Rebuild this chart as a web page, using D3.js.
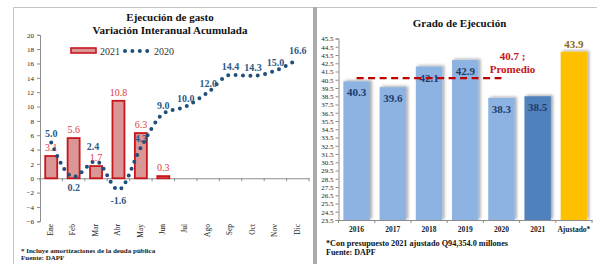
<!DOCTYPE html>
<html><head><meta charset="utf-8">
<script src="https://cdn.jsdelivr.net/npm/d3@7"></script>
<style>
html,body{margin:0;padding:0;background:#fff;}
svg text{font-family:"Liberation Serif","Times New Roman",serif !important;}
</style></head>
<body><svg id="c" width="597" height="264" font-family="Liberation Serif, serif"></svg>
<script>
// ---------- DATA ----------
const months = ["Ene","Feb","Mar","Abr","May","Jun","Jul","Ago","Sep","Oct","Nov","Dic"];
const values2021 = [3.1, 5.6, 1.7, 10.8, 6.3, 0.3];
const values2020 = [5.0, 0.2, 2.4, -1.6, 4.3, 9.0, 10.0, 12.0, 14.4, 14.3, 15.0, 16.6];
const leftTicks = [-6,-4,-2,0,2,4,6,8,10,12,14,16,18,20];
const seriesNames = ["2021", "2020"];

const years = ["2016","2017","2018","2019","2020","2021","Ajustado*"];
const grado = [40.3, 39.6, 42.1, 42.9, 38.3, 38.5, 43.9];
const promedio = 40.7;
const rightTicks = [23.5,24.5,25.5,26.5,27.5,28.5,29.5,30.5,31.5,32.5,33.5,34.5,35.5,36.5,37.5,38.5,39.5,40.5,41.5,42.5,43.5,44.5,45.5];

// ---------- SETUP ----------
const svg = d3.select("#c");
const defs = svg.append("defs");
const f = defs.append("filter").attr("id","sh").attr("x","-30%").attr("y","-30%").attr("width","160%").attr("height","160%");
f.append("feDropShadow").attr("dx",2).attr("dy",-1).attr("stdDeviation",1.4)
  .attr("flood-color","#000").attr("flood-opacity",0.35);

// panel frames
svg.append("path").attr("d","M13.5,270 V7.5 H313").attr("fill","none").attr("stroke","#c4c4c4");
svg.append("rect").attr("x",313).attr("y",7).attr("width",4).attr("height",260).attr("fill","#ababab");
svg.append("path").attr("d","M317,7.5 H597").attr("fill","none").attr("stroke","#c4c4c4");

// ---------- LEFT CHART ----------
const L = svg.append("g");
const x1 = d3.scaleBand().domain(months).range([40, 309]).paddingInner(0.375).paddingOuter(0.1875);
const y1 = d3.scaleLinear().domain([-6, 20]).range([221.3, 34.8]);
const cx1 = m => x1(m) + x1.bandwidth()/2;

L.append("text").attr("x",170).attr("y",21).attr("text-anchor","middle")
  .attr("font-size",11).attr("font-weight","bold").attr("fill","#111").text("Ejecución de gasto");
L.append("text").attr("x",170).attr("y",33.5).attr("text-anchor","middle")
  .attr("font-size",11).attr("font-weight","bold").attr("fill","#111").text("Variación Interanual Acumulada");

// y axis
const ay1 = L.append("g").attr("transform","translate(40,0)")
  .call(d3.axisLeft(y1).tickValues(leftTicks).tickSize(3).tickPadding(3).tickFormat(d3.format("d")));
ay1.attr("font-family", null);
ay1.select(".domain").attr("stroke","#8c8c8c");
ay1.selectAll(".tick line").attr("stroke","#8c8c8c");
ay1.selectAll("text").attr("font-size",7).attr("fill","#222");

// x axis at zero
const ax1 = L.append("g").attr("transform",`translate(0,${y1(0)})`)
  .call(d3.axisBottom(x1).tickSize(0).tickFormat(""));
ax1.select(".domain").attr("stroke","#8c8c8c");
ax1.selectAll(".tick").remove();
const step1 = x1.step();
L.append("g").selectAll("line").data(d3.range(months.length+1)).join("line")
  .attr("x1", i => 40 + i*step1).attr("x2", i => 40 + i*step1)
  .attr("y1", y1(0)).attr("y2", y1(0)+3).attr("stroke","#8c8c8c");
L.append("g").selectAll("text").data(months).join("text")
  .attr("transform", m => `translate(${cx1(m)},224) rotate(-90)`)
  .attr("text-anchor","end").attr("dominant-baseline","middle")
  .attr("font-size",7.5).attr("fill","#222").text(m => m);

// bars 2021
const bw1 = x1.bandwidth();
L.append("g").selectAll("rect").data(values2021).join("rect")
  .attr("x",(d,i)=>x1(months[i])+1).attr("width",bw1-2)
  .attr("y",d=>y1(Math.max(0,d))).attr("height",d=>Math.abs(y1(d)-y1(0)))
  .attr("fill","#d99694").attr("stroke","#c8161d").attr("stroke-width",1.8);

// line 2020 (dotted)
const line1 = d3.line().x((d,i)=>cx1(months[i])).y(d=>y1(d)).curve(d3.curveMonotoneX);
L.append("path").datum(values2020).attr("d",line1)
  .attr("fill","none").attr("stroke","#1f4e79").attr("stroke-width",4)
  .attr("stroke-linecap","round").attr("stroke-dasharray","0 7.4");

// labels 2021
L.append("g").selectAll("text").data(values2021).join("text")
  .attr("x",(d,i)=>cx1(months[i])).attr("y",d=>y1(d)-5)
  .attr("text-anchor","middle").attr("font-size",10).attr("fill","#e0393e")
  .text(d=>d.toFixed(1));
// labels 2020 (below for the two dips, lifted for March to clear the bar label)
const lblDy = i => (i===1||i===3) ? 14 : (i===2 ? -11 : -5);
const lblDx = i => (i===2 ? -3 : 0);
L.append("g").selectAll("text").data(values2020).join("text")
  .attr("x",(d,i)=>cx1(months[i]) + lblDx(i)).attr("y",(d,i)=> y1(d) + lblDy(i))
  .attr("text-anchor","middle").attr("font-size",10).attr("font-weight","bold").attr("fill","#2c5a89")
  .text(d=>d.toFixed(1));

// legend
const lg = L.append("g");
lg.append("rect").attr("x",71).attr("y",48).attr("width",25).attr("height",5)
  .attr("fill","#d99694").attr("stroke","#c8161d").attr("stroke-width",1.6);
lg.append("text").attr("x",100).attr("y",54.5).attr("font-size",10).attr("fill","#333").text(seriesNames[0]);
lg.append("path").attr("d","M125,51 H150").attr("stroke","#1f4e79").attr("stroke-width",4)
  .attr("stroke-linecap","round").attr("stroke-dasharray","0 7.4").attr("fill","none");
lg.append("text").attr("x",154).attr("y",54.5).attr("font-size",10).attr("fill","#333").text(seriesNames[1]);

// footnotes
L.append("text").attr("x",21).attr("y",253).attr("font-size",7).attr("font-weight","bold").attr("fill","#222")
  .text("* Incluye amortizaciones de la deuda pública");
L.append("text").attr("x",21).attr("y",259.5).attr("font-size",7).attr("font-weight","bold").attr("fill","#222")
  .text("Fuente:  DAPF");

// ---------- RIGHT CHART ----------
const R = svg.append("g");
const x2 = d3.scaleBand().domain(years).range([338.5, 592]).paddingInner(0.27).paddingOuter(0.135);
const y2 = d3.scaleLinear().domain([23.5, 45.5]).range([220, 38.5]);
const cx2 = c => x2(c) + x2.bandwidth()/2;
const barColor = i => i === 6 ? "#ffc000" : (i === 5 ? "#4f81bd" : "#8db3e2");

R.append("text").attr("x",459.5).attr("y",27).attr("text-anchor","middle")
  .attr("font-size",11).attr("font-weight","bold").attr("fill","#111").text("Grado de Ejecución");

const ay2 = R.append("g").attr("transform","translate(338.5,0)")
  .call(d3.axisLeft(y2).tickValues(rightTicks).tickSize(3).tickPadding(2).tickFormat(d3.format(".1f")));
ay2.attr("font-family", null);
ay2.select(".domain").attr("stroke","#8c8c8c");
ay2.selectAll(".tick line").attr("stroke","#8c8c8c");
ay2.selectAll("text").attr("font-size",7).attr("fill","#222");

// bars
R.append("g").selectAll("rect").data(grado).join("rect")
  .attr("x",(d,i)=>x2(years[i])).attr("width",x2.bandwidth())
  .attr("y",d=>y2(d)).attr("height",d=>y2(23.5)-y2(d))
  .attr("fill",(d,i)=>barColor(i)).attr("filter","url(#sh)");

// x axis
const ax2 = R.append("g").attr("transform",`translate(0,${y2(23.5)})`)
  .call(d3.axisBottom(x2).tickSize(0).tickFormat(""));
ax2.select(".domain").attr("stroke","#8c8c8c");
ax2.selectAll(".tick").remove();
const step2 = x2.step();
R.append("g").selectAll("line").data(d3.range(years.length+1)).join("line")
  .attr("x1", i => 338.5 + i*step2).attr("x2", i => 338.5 + i*step2)
  .attr("y1", y2(23.5)).attr("y2", y2(23.5)+3).attr("stroke","#8c8c8c");
R.append("g").selectAll("text").data(years).join("text")
  .attr("x", c => cx2(c)).attr("y", 231.5).attr("text-anchor","middle")
  .attr("font-size",7.5).attr("font-weight","bold").attr("fill","#222").text(c => c);

// value labels
R.append("g").selectAll("text").data(grado).join("text")
  .attr("x",(d,i)=>cx2(years[i])).attr("y",(d,i)=> i===6 ? y2(d)-4 : y2(d)+15)
  .attr("text-anchor","middle").attr("font-size",11).attr("font-weight","bold")
  .attr("fill",(d,i)=> i===6 ? "#8a6a1a" : "#1f3a66")
  .text(d=>d.toFixed(1));

// average line
R.append("line").attr("x1",cx2("2016")).attr("x2",cx2("2020"))
  .attr("y1",y2(promedio)).attr("y2",y2(promedio))
  .attr("stroke","#c00000").attr("stroke-width",2.2).attr("stroke-dasharray","7 4.5");
R.append("text").attr("x",512.5).attr("y",60).attr("text-anchor","middle")
  .attr("font-size",11).attr("font-weight","bold").attr("fill","#c8141c").text(promedio.toFixed(1) + " ;");
R.append("text").attr("x",512.5).attr("y",73).attr("text-anchor","middle")
  .attr("font-size",11).attr("font-weight","bold").attr("fill","#c8141c").text("Promedio");

// footnotes
R.append("text").attr("x",326).attr("y",246).attr("font-size",8).attr("font-weight","bold").attr("fill","#111")
  .attr("textLength",182).attr("lengthAdjust","spacingAndGlyphs")
  .text("*Con presupuesto 2021 ajustado Q94,354.0 millones");
R.append("text").attr("x",326).attr("y",254.5).attr("font-size",8).attr("font-weight","bold").attr("fill","#111")
  .text("Fuente: DAPF");
</script></body></html>
